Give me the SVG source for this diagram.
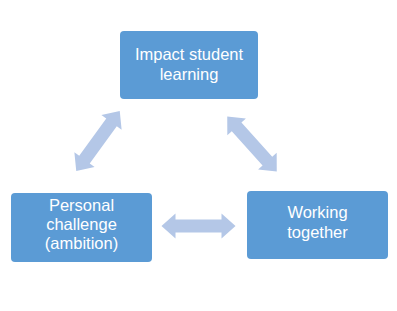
<svg xmlns="http://www.w3.org/2000/svg" width="397" height="311" viewBox="0 0 397 311">
<style>
.box{fill:#5B9BD5;}
.lbl{fill:#FFFFFF;font-family:"Liberation Sans",Arial,sans-serif;font-size:16.5px;text-anchor:middle;}
.arr{fill:#B4C7E7;}
</style>
<defs>
<path id="dbl" d="M-37,0 L-23,-12.5 L-23,-6.5 L23,-6.5 L23,-12.5 L37,0 L23,12.5 L23,6.5 L-23,6.5 L-23,12.5 Z"/>
</defs>
<rect width="397" height="311" fill="#FFFFFF"/>
<g id="connectors" class="arr">
<use href="#dbl" transform="translate(198.5,226)"/>
<use href="#dbl" transform="translate(98,141) rotate(-54)"/>
<use href="#dbl" transform="translate(252,144) rotate(48)"/>
</g>
<g id="impact">
<rect class="box" x="120" y="31" width="138" height="68" rx="4"/>
<text class="lbl" x="189" y="60">Impact student</text>
<text class="lbl" x="189" y="80">learning</text>
</g>
<g id="personal">
<rect class="box" x="11" y="193" width="141" height="69" rx="4"/>
<text class="lbl" x="81.5" y="211">Personal</text>
<text class="lbl" x="81.5" y="230">challenge</text>
<text class="lbl" x="81.5" y="249">(ambition)</text>
</g>
<g id="working">
<rect class="box" x="247" y="191" width="141" height="68" rx="4"/>
<text class="lbl" x="317.5" y="218">Working</text>
<text class="lbl" x="317.5" y="238">together</text>
</g>
</svg>
